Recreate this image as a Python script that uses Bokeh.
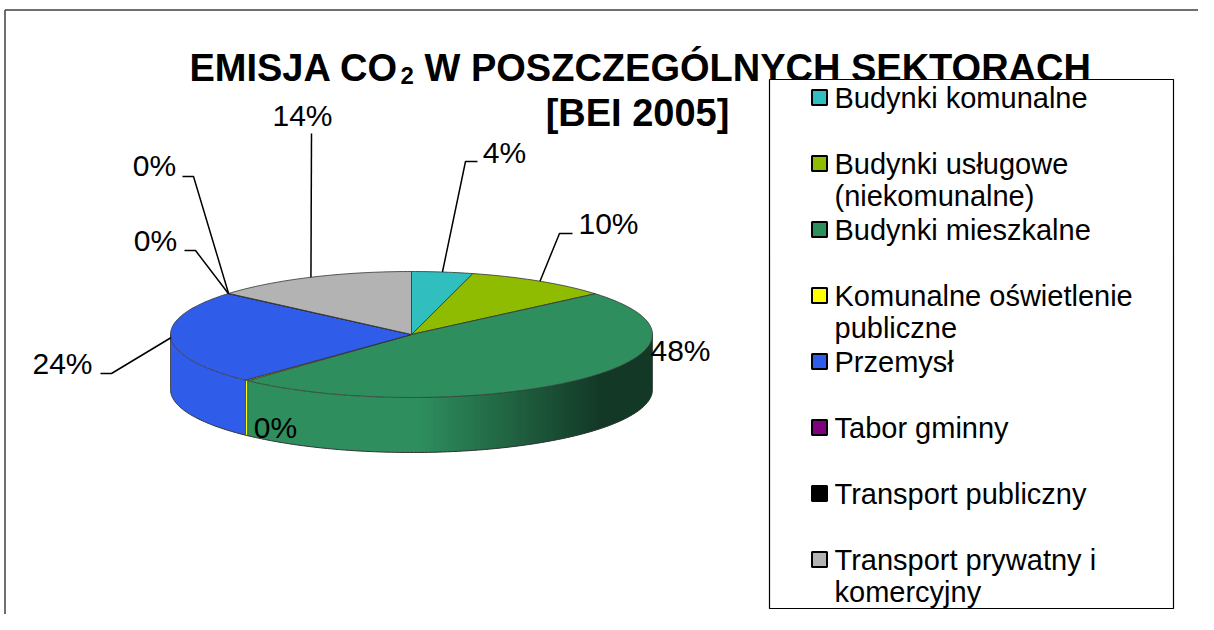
import numpy as np
from bokeh.plotting import figure
from bokeh.models import Range1d
from bokeh.embed import file_html
from bokeh.resources import INLINE
from bokeh.core.properties import value

# ---------------- data ----------------
categories = [
    "Budynki komunalne",
    "Budynki usługowe\n(niekomunalne)",
    "Budynki mieszkalne",
    "Komunalne oświetlenie\npubliczne",
    "Przemysł",
    "Tabor gminny",
    "Transport publiczny",
    "Transport prywatny i\nkomercyjny",
]
shares = [4.1, 9.7, 48.1, 0.2, 24.15, 0.02, 0.03, 13.7]
colors = ["#31BEBE", "#8FBC00", "#2E8E5E", "#FFFF00", "#2F5DE9", "#800080", "#000000", "#B3B3B3"]
title_parts = ["EMISJA CO", "2", "W POSZCZEGÓLNYCH SEKTORACH"]
subtitle = "[BEI 2005]"

# ---------------- layout ----------------
W, H = 1198, 614
FONT = value("Liberation Sans")
CX, CY, RX, RY, DEPTH = 411.0, 334.0, 241.0, 63.0, 55.0
EDGE = "#333333"

label_pos = [(504, 152), (608, 223), (680, 350), (275, 427), (62, 363), (155, 240), (154, 165), (302, 115)]
leader_bend = [(465, 161, 477), (559, 233, 572), None, None, (111, 373, 100), (195, 250, 184), (193, 176, 182), (311, 133, 311)]

p = figure(width=W, height=H, output_backend="svg", toolbar_location=None,
           x_range=Range1d(0, W), y_range=Range1d(H, 0),
           x_axis_type=None, y_axis_type=None, min_border=0,
           outline_line_color=None, background_fill_color="white")
p.grid.visible = False


def ell(theta_deg, dy=0.0):
    t = np.radians(theta_deg)
    return CX + RX * np.sin(t), CY - RY * np.cos(t) + dy


total = float(sum(shares))
bounds = np.concatenate([[0.0], np.cumsum(shares) / total * 360.0])

BASE = np.array([46, 142, 94])
DARK = np.array([19, 57, 38])


def grad_color(xm):
    t = np.clip((xm - 420.0) / 180.0, 0, 1)
    c = (BASE * (1 - t) + DARK * t).astype(int)
    return "#%02x%02x%02x" % tuple(c)


def side_poly(a, b, n=40):
    th = np.linspace(a, b, n)
    tx, ty = ell(th)
    bx, by = ell(th[::-1], DEPTH)
    return list(tx) + list(bx), list(ty) + list(by)


# side walls (front half visible: 90..270 deg)
sx, sy, sc = [], [], []
gx, gy, gc = [], [], []
for i in range(len(shares)):
    lo, hi = max(bounds[i], 90.0), min(bounds[i + 1], 270.0)
    if hi <= lo:
        continue
    xs, ys = side_poly(lo, hi, max(4, int(hi - lo) + 2))
    sx.append(xs); sy.append(ys); sc.append(colors[i])
    if i == 2:
        # shading strips, uniform in x, for the darker right part
        x_lo = float(ell(hi)[0])
        x_edges = np.arange(max(x_lo, 420.0), CX + RX + 0.01, 3.0)
        for xa, xb in zip(x_edges[:-1], x_edges[1:]):
            ta = 180.0 - np.degrees(np.arcsin(np.clip((xa - CX) / RX, -1, 1)))
            tb = 180.0 - np.degrees(np.arcsin(np.clip((xb + 0.6 - CX) / RX, -1, 1)))
            a, b = max(min(ta, tb), lo), min(max(ta, tb), hi)
            if b <= a:
                continue
            xs2, ys2 = side_poly(a, b, 6)
            gx.append(xs2); gy.append(ys2); gc.append(grad_color((xa + xb) / 2))
p.patches(sx, sy, fill_color=sc, line_color=None)
p.patches(gx, gy, fill_color=gc, line_color=None)

# side outline: bottom arc + vertical edges at visible slice boundaries
th = np.linspace(90, 270, 200)
bx, by = ell(th, DEPTH)
p.line(bx, by, line_color=EDGE, line_width=1)
vx, vy = [], []
for a in [90.0, 270.0] + [b for b in bounds if 90.0 < b < 270.0]:
    x0, y0 = ell(a)
    vx.append([x0, x0])
    vy.append([y0, y0 + DEPTH])
p.multi_line(vx, vy, line_color=EDGE, line_width=0.8)

# top wedges
wx, wy, wc = [], [], []
for i in range(len(shares)):
    a, b = bounds[i], bounds[i + 1]
    if b - a <= 0:
        continue
    th = np.linspace(a, b, max(3, int(b - a) + 2))
    tx, ty = ell(th)
    wx.append([CX] + list(tx))
    wy.append([CY] + list(ty))
    wc.append(colors[i])
p.patches(wx, wy, fill_color=wc, line_color=EDGE, line_width=0.8)

# leader lines and data labels
lx, ly = [], []
for i in range(len(shares)):
    bend = leader_bend[i]
    if bend is None:
        continue
    mx, my = ell((bounds[i] + bounds[i + 1]) / 2.0)
    lx.append([float(mx), bend[0], bend[2]])
    ly.append([float(my), bend[1], bend[1]])
p.multi_line(lx, ly, line_color="black", line_width=1.5)

p.text(x=[q[0] for q in label_pos], y=[q[1] for q in label_pos],
       text=[f"{round(s / total * 100)}%" for s in shares],
       text_font=FONT, text_font_size="30px", text_color="black",
       text_align="center", text_baseline="middle")

# title
p.text(x=[398], y=[67], text=[title_parts[0]], text_font=FONT, text_font_size="38px",
       text_font_style="bold", text_align="right", text_baseline="alphabetic")
p.text(x=[400], y=[75], text=[title_parts[1]], text_font=FONT, text_font_size="24px",
       text_font_style="bold", text_align="left", text_baseline="alphabetic")
p.text(x=[424], y=[67], text=[title_parts[2]], text_font=FONT, text_font_size="38px",
       text_font_style="bold", text_align="left", text_baseline="alphabetic")
p.text(x=[637], y=[112], text=[subtitle], text_font=FONT, text_font_size="38px",
       text_font_style="bold", text_align="center", text_baseline="alphabetic")

# chart area frame (top and left edges visible)
p.line([4.5, W], [9.5, 9.5], line_color="#404040", line_width=1.5)
p.line([4.5, 4.5], [9.5, H], line_color="#404040", line_width=1.5)

# legend
p.quad(left=[769], right=[1173], top=[79], bottom=[608], fill_color="white",
       line_color="black", line_width=1.2)
row0, step, lstep = 97.0, 66.0, 32.0
ry = [row0 + step * k for k in range(len(categories))]
p.rect(x=[819] * len(categories), y=ry, width=15, height=15, fill_color=colors,
       line_color="black", line_width=2)
tx, ty, tt = [], [], []
for k, name in enumerate(categories):
    for j, part in enumerate(name.split("\n")):
        tx.append(834)
        ty.append(ry[k] + j * lstep)
        tt.append(part)
p.text(x=tx, y=ty, text=tt, text_font=FONT, text_font_size="29px", text_color="black",
       text_align="left", text_baseline="middle")

open("out.html", "w").write(file_html(p, INLINE))
